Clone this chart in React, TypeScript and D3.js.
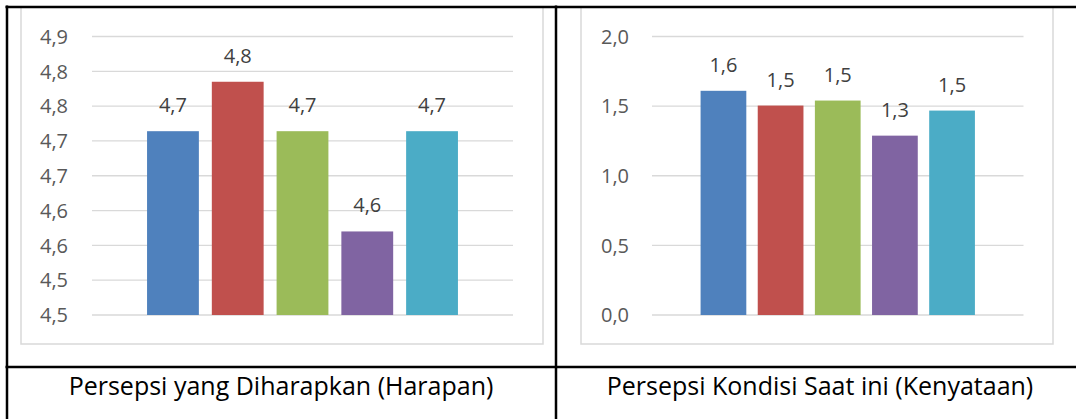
import * as d3 from 'd3'

const CATEGORIES = ['A', 'B', 'C', 'D', 'E']
const COLORS = ['#4F81BD', '#C0504D', '#9BBB59', '#8064A2', '#4BACC6']

// left panel: expected perception
const HARAPAN_VALUES = [4.764, 4.835, 4.764, 4.62, 4.764]
const HARAPAN_LABELS = ['4,7', '4,8', '4,7', '4,6', '4,7']
const HARAPAN_TICKS = [4.5, 4.55, 4.6, 4.65, 4.7, 4.75, 4.8, 4.85, 4.9]
const HARAPAN_TICK_LABELS = ['4,5', '4,5', '4,6', '4,6', '4,7', '4,7', '4,8', '4,8', '4,9']

// right panel: current condition
const KENYATAAN_VALUES = [1.61, 1.504, 1.54, 1.288, 1.468]
const KENYATAAN_LABELS = ['1,6', '1,5', '1,5', '1,3', '1,5']
const KENYATAAN_TICKS = [0, 0.5, 1, 1.5, 2]
const KENYATAAN_TICK_LABELS = ['0,0', '0,5', '1,0', '1,5', '2,0']

const FONT = '"Open Sans", "Noto Sans", sans-serif'

type PanelProps = {
  values: number[]
  labels: string[]
  ticks: number[]
  tickLabels: string[]
  domain: [number, number]
  frame: [number, number] // left/right of the gray chart frame
  plot: [number, number] // gridline x-extent
  tickX: number
}

function Panel({ values, labels, ticks, tickLabels, domain, frame, plot, tickX }: PanelProps) {
  const y = d3.scaleLinear().domain(domain).range([315, 36.5])
  const x = d3.scaleBand<string>().domain(CATEGORIES).range(plot).paddingInner(0.2).paddingOuter(0.85)
  return (
    <g>
      <rect x={frame[0]} y={7} width={frame[1] - frame[0]} height={337} fill="#fff" stroke="#d9d9d9" strokeWidth={1.5} />
      {ticks.map((t, i) => (
        <g key={i}>
          <line x1={plot[0]} x2={plot[1]} y1={y(t)} y2={y(t)} stroke="#d9d9d9" strokeWidth={1.3} />
          <text x={tickX} y={y(t)} dy="0.36em" textAnchor="end" fontSize={20} fill="#595959" fontFamily={FONT}>
            {tickLabels[i]}
          </text>
        </g>
      ))}
      {values.map((v, i) => (
        <g key={i}>
          <rect x={x(CATEGORIES[i])} y={y(v)} width={x.bandwidth()} height={y(domain[0]) - y(v)} fill={COLORS[i]} />
          <text x={(x(CATEGORIES[i]) ?? 0) + x.bandwidth() / 2} y={y(v) - 19} textAnchor="middle" fontSize={20} fill="#404040" fontFamily={FONT}>
            {labels[i]}
          </text>
        </g>
      ))}
    </g>
  )
}

export default function App() {
  const W = 1076
  const H = 419
  return (
    <svg width={W} height={H} style={{ position: 'absolute', left: 0, top: 0, background: '#fff' }}>
      <rect width={W} height={H} fill="#fff" />
      <Panel values={HARAPAN_VALUES} labels={HARAPAN_LABELS} ticks={HARAPAN_TICKS} tickLabels={HARAPAN_TICK_LABELS}
        domain={[4.5, 4.9]} frame={[21, 543]} plot={[92, 513]} tickX={68} />
      <Panel values={KENYATAAN_VALUES} labels={KENYATAAN_LABELS} ticks={KENYATAAN_TICKS} tickLabels={KENYATAAN_TICK_LABELS}
        domain={[0, 2]} frame={[581, 1053]} plot={[652, 1023.5]} tickX={629} />
      {/* table borders */}
      <g stroke="#000" strokeWidth={2.5}>
        <line x1={5.5} x2={W} y1={7} y2={7} />
        <line x1={7} x2={7} y1={5.5} y2={H} />
        <line x1={556} x2={556} y1={5.5} y2={H} />
        <line x1={5.5} x2={W} y1={367} y2={367} />
      </g>
      <text x={281} y={395} textAnchor="middle" fontSize={25} fill="#000" fontFamily={FONT}>Persepsi yang Diharapkan (Harapan)</text>
      <text x={820} y={395} textAnchor="middle" fontSize={25} fill="#000" fontFamily={FONT}>Persepsi Kondisi Saat ini (Kenyataan)</text>
    </svg>
  )
}
